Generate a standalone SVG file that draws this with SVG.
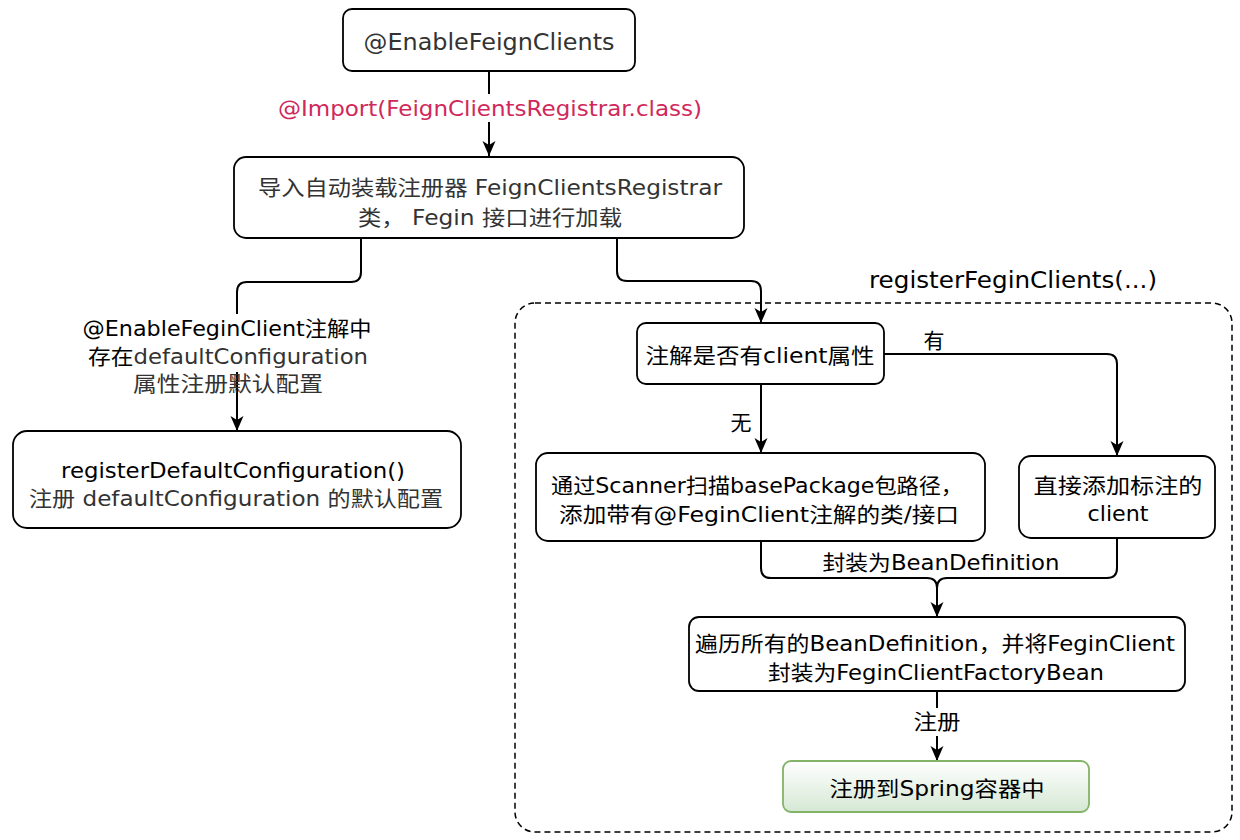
<svg xmlns="http://www.w3.org/2000/svg" width="1240" height="840" viewBox="0 0 1240 840">
<defs>
<style>
.box{fill:#ffffff;stroke:#000000;stroke-width:1.8}
.edge{fill:none;stroke:#000000;stroke-width:2}
text{font-family:"DejaVu Sans","Noto Sans CJK SC",sans-serif;text-anchor:middle}
.t23{font-size:23px}
.t21{font-size:21px}
.g{fill:#333333}
.k{fill:#000000}
</style>
<marker id="arr" viewBox="0 0 15 14" markerWidth="15" markerHeight="14" refX="15" refY="7" orient="auto" markerUnits="userSpaceOnUse">
<path d="M0,0.5 L15,7 L0,13.5 L4,7 Z" fill="#000000"/>
</marker>
<linearGradient id="green" x1="0" y1="0" x2="0" y2="1">
<stop offset="0" stop-color="#ffffff"/>
<stop offset="1" stop-color="#d5e8d4"/>
</linearGradient>
</defs>
<rect width="1240" height="840" fill="#ffffff"/>

<g id="container">
<rect x="515" y="303" width="717" height="529" rx="20" fill="none" stroke="#000000" stroke-width="1.5" stroke-dasharray="6,4"/>
<text x="1013" y="288" class="t23 k" textLength="288" lengthAdjust="spacingAndGlyphs">registerFeginClients(...)</text>
</g>

<g id="connectors">
<path class="edge" d="M489,71 V156" marker-end="url(#arr)"/>
<rect x="270" y="94" width="440" height="28" fill="#ffffff"/>
<text x="490" y="116" class="t21" fill="#d0285a" textLength="424" lengthAdjust="spacingAndGlyphs">@Import(FeignClientsRegistrar.class)</text>

<path class="edge" d="M361,238 V272 Q361,282 351,282 H247 Q237,282 237,292 V431" marker-end="url(#arr)"/>
<rect x="78" y="314" width="300" height="58" fill="#ffffff"/>
<text x="227" y="336" class="t21 k" textLength="289" lengthAdjust="spacingAndGlyphs">@EnableFeginClient注解中</text>
<text x="228" y="364" class="t21" textLength="280" lengthAdjust="spacingAndGlyphs"><tspan class="k">存在</tspan><tspan class="g">defaultConfiguration</tspan></text>
<text x="228" y="391" class="t21 g" textLength="190" lengthAdjust="spacingAndGlyphs">属性注册默认配置</text>

<path class="edge" d="M617,238 V271 Q617,281 627,281 H751 Q761,281 761,291 V323" marker-end="url(#arr)"/>

<path class="edge" d="M884,354 H1107 Q1117,354 1117,364 V456" marker-end="url(#arr)"/>
<text x="934" y="348" class="t21 k">有</text>

<path class="edge" d="M761,384 V453" marker-end="url(#arr)"/>
<text x="741" y="430" class="t21 k">无</text>

<path class="edge" d="M761,541 V568 Q761,578 771,578 H927 Q937,578 937,588 V617" marker-end="url(#arr)"/>
<path class="edge" d="M1117,538 V568 Q1117,578 1107,578 H947 Q937,578 937,588 V610"/>
<text x="941" y="570" class="t21 k" textLength="237" lengthAdjust="spacingAndGlyphs">封装为BeanDefinition</text>

<path class="edge" d="M937,691 V761" marker-end="url(#arr)"/>
<rect x="910" y="708" width="54" height="28" fill="#ffffff"/>
<text x="937" y="729" class="t21 k" textLength="47" lengthAdjust="spacingAndGlyphs">注册</text>
</g>

<g id="n-enable">
<rect class="box" x="343" y="9" width="292" height="62" rx="9"/>
<text x="489" y="50" class="t23 g" textLength="251" lengthAdjust="spacingAndGlyphs">@EnableFeignClients</text>
</g>

<g id="n-import">
<rect class="box" x="234" y="157" width="510" height="81" rx="12"/>
<text x="490" y="195" class="t21 g" textLength="464" lengthAdjust="spacingAndGlyphs">导入自动装载注册器 FeignClientsRegistrar</text>
<text x="490" y="225" class="t21 g" textLength="264" lengthAdjust="spacingAndGlyphs">类， Fegin 接口进行加载</text>
</g>

<g id="n-default">
<rect class="box" x="13" y="431" width="448" height="97" rx="14"/>
<text x="233" y="478" class="t21 k" textLength="344" lengthAdjust="spacingAndGlyphs">registerDefaultConfiguration()</text>
<text x="236" y="506" class="t21 g" textLength="414" lengthAdjust="spacingAndGlyphs">注册 defaultConfiguration 的默认配置</text>
</g>

<g id="n-check">
<rect class="box" x="637" y="323" width="247" height="61" rx="9"/>
<text x="760" y="363" class="t21 k" textLength="229" lengthAdjust="spacingAndGlyphs">注解是否有client属性</text>
</g>

<g id="n-scan">
<rect class="box" x="536" y="453" width="449" height="88" rx="12"/>
<text x="757" y="493" class="t21 k" textLength="412" lengthAdjust="spacingAndGlyphs">通过Scanner扫描basePackage包路径，</text>
<text x="759" y="522" class="t21 k" textLength="400" lengthAdjust="spacingAndGlyphs">添加带有@FeginClient注解的类/接口</text>
</g>

<g id="n-direct">
<rect class="box" x="1019" y="456" width="196" height="82" rx="12"/>
<text x="1118" y="493" class="t21 k" textLength="169" lengthAdjust="spacingAndGlyphs">直接添加标注的</text>
<text x="1118" y="521" class="t21 k" textLength="61" lengthAdjust="spacingAndGlyphs">client</text>
</g>

<g id="n-wrap">
<rect class="box" x="689" y="617" width="496" height="74" rx="10"/>
<text x="935" y="651" class="t21 k" textLength="480" lengthAdjust="spacingAndGlyphs">遍历所有的BeanDefinition，并将FeginClient</text>
<text x="936" y="680" class="t21 k" textLength="336" lengthAdjust="spacingAndGlyphs">封装为FeginClientFactoryBean</text>
</g>

<g id="n-spring">
<rect x="783" y="761" width="306" height="51" rx="8" fill="url(#green)" stroke="#82b366" stroke-width="1.8"/>
<text x="937" y="796" class="t21 k" textLength="215" lengthAdjust="spacingAndGlyphs">注册到Spring容器中</text>
</g>
</svg>
